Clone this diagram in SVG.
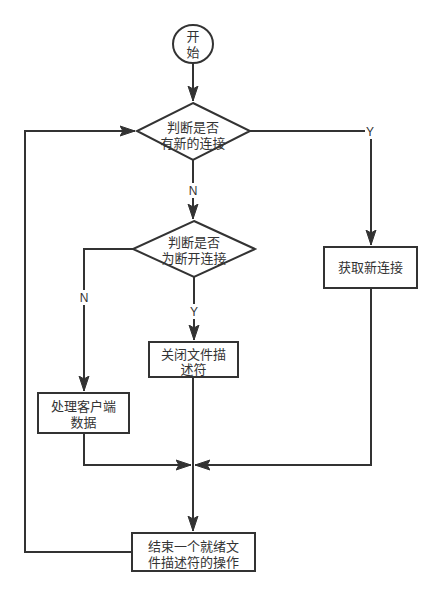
<svg xmlns="http://www.w3.org/2000/svg" width="441" height="595" viewBox="0 0 441 595">
<style>
.shape{fill:#fff;stroke:#333;stroke-width:2}
.edge{fill:none;stroke:#333;stroke-width:2}
.t{font-family:"Liberation Sans","Noto Sans CJK SC",sans-serif;font-size:13px;fill:#333;text-anchor:middle}
.lbl{font-family:"Liberation Sans","Noto Sans CJK SC",sans-serif;font-size:12px;fill:#333;text-anchor:middle}
.bg{fill:#fff;stroke:none}
</style>
<defs>
<marker id="arr" markerUnits="userSpaceOnUse" markerWidth="16" markerHeight="12" refX="15" refY="6" orient="auto">
<path d="M0,1 L15,6 L0,11 L3,6 Z" fill="#333" stroke="#333" stroke-width="1"/>
</marker>
</defs>
<g id="connectors">
<path class="edge" d="M193,64 V101" marker-end="url(#arr)"/>
<path class="edge" d="M193,160 V219" marker-end="url(#arr)"/>
<path class="edge" d="M250,131 H371 V245" marker-end="url(#arr)"/>
<path class="edge" d="M194,277 V340" marker-end="url(#arr)"/>
<path class="edge" d="M133,249 H84 V391" marker-end="url(#arr)"/>
<path class="edge" d="M84,433 V465 H191" marker-end="url(#arr)"/>
<path class="edge" d="M371,288 V465 H195" marker-end="url(#arr)"/>
<path class="edge" d="M193,377 V531" marker-end="url(#arr)"/>
<path class="edge" d="M132,552 H25 V131 H135" marker-end="url(#arr)"/>
<rect class="bg" x="187" y="183" width="12" height="15"/>
<text class="lbl" x="193" y="195">N</text>
<rect class="bg" x="365" y="125" width="11" height="14"/>
<text class="lbl" x="370" y="136">Y</text>
<rect class="bg" x="189" y="304" width="11" height="15"/>
<text class="lbl" x="194" y="316">Y</text>
<rect class="bg" x="78" y="290" width="12" height="15"/>
<text class="lbl" x="84" y="302">N</text>
</g>
<g id="start">
<ellipse class="shape" cx="193" cy="44" rx="20" ry="19"/>
<text class="t" x="193" y="41">开</text>
<text class="t" x="193" y="57">始</text>
</g>
<g id="decision1">
<polygon class="shape" points="193,103 250,131 193,160 137,131"/>
<text class="t" x="193" y="132">判断是否</text>
<text class="t" x="193" y="148">有新的连接</text>
</g>
<g id="decision2">
<polygon class="shape" points="194,221 255,249 194,277 133,249"/>
<text class="t" x="194" y="247">判断是否</text>
<text class="t" x="194" y="263">为断开连接</text>
</g>
<g id="getconn">
<rect class="shape" x="324" y="247" width="93" height="41"/>
<text class="t" x="370.5" y="272">获取新连接</text>
</g>
<g id="closefd">
<rect class="shape" x="149" y="342" width="89" height="35"/>
<text class="t" x="193.5" y="359">关闭文件描</text>
<text class="t" x="193.5" y="374">述符</text>
</g>
<g id="process">
<rect class="shape" x="38" y="393" width="91" height="40"/>
<text class="t" x="83.5" y="411">处理客户端</text>
<text class="t" x="83.5" y="427">数据</text>
</g>
<g id="end">
<rect class="shape" x="132" y="533" width="123" height="38"/>
<text class="t" x="193.5" y="551">结束一个就绪文</text>
<text class="t" x="193.5" y="567">件描述符的操作</text>
</g>
</svg>
